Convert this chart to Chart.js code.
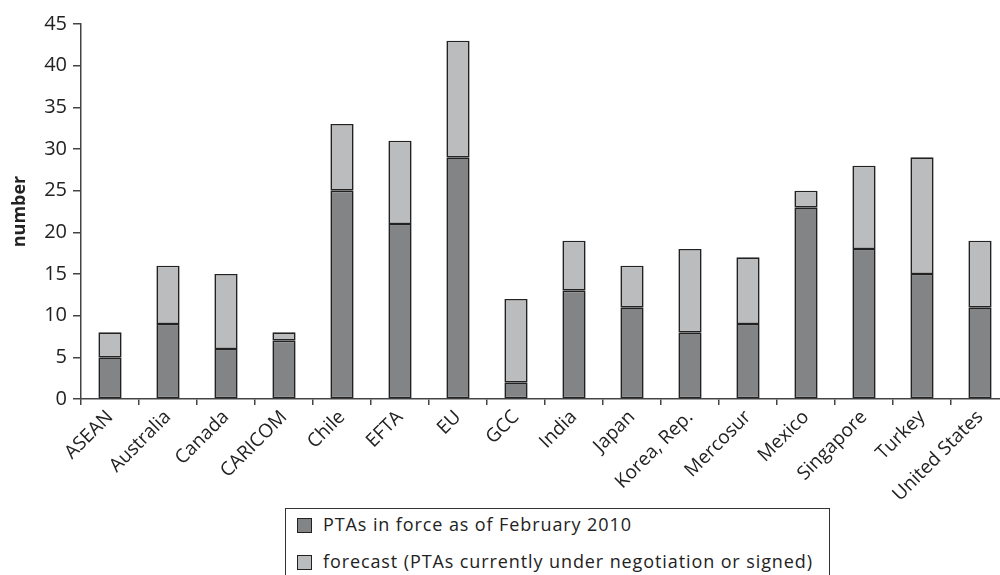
<!DOCTYPE html>
<html>
<head>
<meta charset="utf-8">
<script src="https://cdn.jsdelivr.net/npm/chart.js@4/dist/chart.umd.min.js"></script>
<style>
  html, body { margin: 0; padding: 0; background: #fff; }
  #wrap { position: relative; width: 1000px; height: 575px; overflow: hidden; }
  #box { position: absolute; left: 0; top: 0; width: 1010px; height: 500px; }
  #legend {
    position: absolute; left: 285px; top: 508px; width: 545px; height: 90px;
    border: 1px solid #333; box-sizing: border-box;
    font-family: 'Open Sans', sans-serif; font-size: 18px; letter-spacing: 0.9px; color: #222;
  }
  .item { position: absolute; left: 11px; height: 24px; line-height: 24px; white-space: nowrap; }
  .item i { display: inline-block; width: 13px; height: 13px; border: 1px solid #222;
            vertical-align: -2px; margin-right: 11px; }
</style>
</head>
<body>
<div id="wrap">
  <div id="box"><canvas id="chart"></canvas></div>
  <div id="legend"></div>
</div>
<script>
const CATEGORIES = ['ASEAN', 'Australia', 'Canada', 'CARICOM', 'Chile', 'EFTA', 'EU', 'GCC',
  'India', 'Japan', 'Korea, Rep.', 'Mercosur', 'Mexico', 'Singapore', 'Turkey', 'United States'];
const IN_FORCE = [5, 9, 6, 7, 25, 21, 29, 2, 13, 11, 8, 9, 23, 18, 15, 11];
const FORECAST = [3, 7, 9, 1, 8, 10, 14, 10, 6, 5, 10, 8, 2, 10, 14, 8];
const SERIES_LABELS = ['PTAs in force as of February 2010',
  'forecast (PTAs currently under negotiation or signed)'];
const Y_TITLE = 'number';

const COLOR_DARK = '#838486';
const COLOR_LIGHT = '#bbbcbe';
const COLOR_EDGE = '#222';
const COLOR_AXIS = '#444';
const FONT = "'Open Sans', sans-serif";

const datasets = [
  { label: SERIES_LABELS[0], data: IN_FORCE, backgroundColor: COLOR_DARK },
  { label: SERIES_LABELS[1], data: FORECAST, backgroundColor: COLOR_LIGHT }
].map((d) => ({
  ...d,
  borderColor: COLOR_EDGE,
  borderWidth: 1.6,
  borderSkipped: false,
  barPercentage: 0.4,
  categoryPercentage: 1
}));

new Chart(document.getElementById('chart'), {
  type: 'bar',
  data: { labels: CATEGORIES, datasets },
  options: {
    responsive: true,
    maintainAspectRatio: false,
    animation: false,
    layout: { padding: { top: 24, right: 1, left: 9, bottom: 0 } },
    plugins: { legend: { display: false }, tooltip: { enabled: false } },
    scales: {
      x: {
        stacked: true,
        afterFit: (s) => { s.height = 101; },
        border: { color: COLOR_AXIS, width: 1.5 },
        grid: { offset: true, drawOnChartArea: false, tickLength: 6, color: COLOR_AXIS, lineWidth: 1.5 },
        ticks: { minRotation: 45, maxRotation: 45, autoSkip: false, padding: 1,
                 color: '#222', font: { family: FONT, size: 19 } }
      },
      y: {
        stacked: true,
        min: 0,
        max: 45,
        afterFit: (s) => { s.width = 72; },
        border: { color: COLOR_AXIS, width: 1.5 },
        grid: { drawOnChartArea: false, tickLength: 8, color: COLOR_AXIS, lineWidth: 1.5 },
        ticks: { stepSize: 5, padding: 6, color: '#222', font: { family: FONT, size: 20 } },
        title: { display: true, text: Y_TITLE, color: '#222', padding: { top: 0, bottom: 0 },
                 font: { family: FONT, size: 18, weight: 'bold' } }
      }
    }
  }
});

// plain HTML legend with a frame, like the original
const legend = document.getElementById('legend');
[COLOR_DARK, COLOR_LIGHT].forEach((c, i) => {
  const row = document.createElement('div');
  row.className = 'item';
  row.style.top = (3 + i * 37) + 'px';
  row.innerHTML = `<i style="background:${c}"></i>${SERIES_LABELS[i]}`;
  legend.appendChild(row);
});
</script>
</body>
</html>
